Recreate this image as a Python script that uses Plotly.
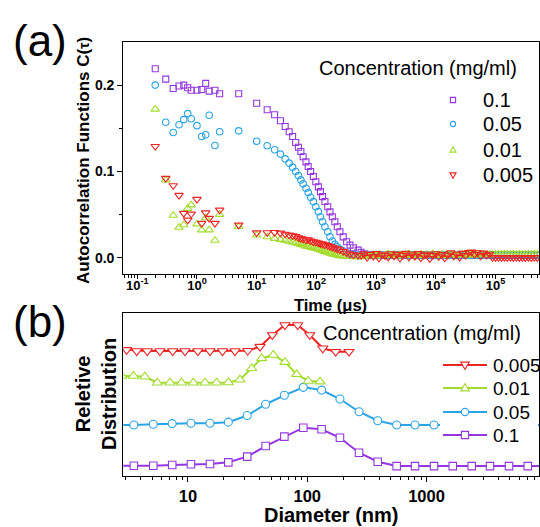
import plotly.graph_objects as go

# ---------------- Panel (a): autocorrelation functions ----------------
time_us = [0.2, 0.3, 0.4, 0.5, 0.6, 0.7, 0.8, 1.0, 1.2, 1.4, 1.6, 2.0, 2.4, 5, 10,
           15, 20, 25, 30, 35, 40, 45, 50, 55, 60, 67, 73, 80, 89, 98,
           108, 117, 127, 139, 155, 169, 185, 204, 224, 248, 282, 321, 366, 417, 500,
           560, 630, 710, 800, 900, 1000, 1120, 1260, 1410, 1590, 1780, 2000, 2240, 2510, 2820,
           3160, 3550, 3980, 4470, 5010, 5620, 6310, 7080, 7940, 8910, 10000, 11200, 12600, 14100, 15800,
           17800, 20000, 22400, 25100, 28200, 31600, 35500, 39800, 44700, 50100, 56200, 63100, 70800, 79400, 89100,
           100000, 112000, 126000, 141000, 158000, 178000, 200000, 224000, 251000, 282000, 316000, 355000, 398000, 447000, 501000]

acf_01 = [0.219, 0.207, 0.196, 0.199, 0.200, 0.197, 0.194, 0.194, 0.195, 0.202, 0.193, 0.194, 0.190, 0.190, 0.179,
          0.1715, 0.1657, 0.1587, 0.152, 0.146, 0.1405, 0.1335, 0.128, 0.123, 0.117, 0.111, 0.1056, 0.0998, 0.094, 0.088,
          0.082, 0.0765, 0.0707, 0.065, 0.059, 0.053, 0.0474, 0.0416, 0.0358, 0.030, 0.024, 0.0184, 0.0145, 0.0114, 0.0087,
          0.0062, 0.0045, 0.0035, 0.0030, 0.0028, 0.0032, 0.0025, 0.0030, 0.0027, 0.0033, 0.0026, 0.0031, 0.0024, 0.0029, 0.0034,
          0.0027, 0.0030, 0.0025, 0.0032, 0.0028, 0.0026, 0.0031, 0.0029, 0.0024, 0.0033, 0.0028, 0.0030, 0.0025, 0.0031, 0.0027,
          0.0034, 0.0029, 0.0026, 0.0032, 0.0028, 0.0030, 0.0035, 0.0027, 0.0031, 0.0029, 0.0026, 0.0032, 0.0030, 0.0028, 0.0031,
          0.0029, 0.0030, 0.0028, 0.0031, 0.0029, 0.0030, 0.0028, 0.0031, 0.0029, 0.0030, 0.0028, 0.0031, 0.0029, 0.0030, 0.0029]

acf_005 = [0.200, 0.157, 0.145, 0.154, 0.160, 0.167, 0.161, 0.153, 0.1405, 0.1424, 0.165, 0.130, 0.146, 0.147, 0.135,
           0.1297, 0.125, 0.120, 0.1145, 0.1095, 0.1049, 0.0998, 0.0951, 0.0901, 0.0855, 0.0805, 0.0754, 0.070, 0.0649, 0.059,
           0.0533, 0.0474, 0.0416, 0.0358, 0.030, 0.0242, 0.0192, 0.0153, 0.0126, 0.0099, 0.0076, 0.0056, 0.0040, 0.0035, 0.0030,
           0.0030, 0.0028, 0.0033, 0.0026, 0.0031, 0.0035, 0.0027, 0.0030, 0.0024, 0.0032, 0.0029, 0.0036, 0.0026, 0.0031, 0.0028,
           0.0033, 0.0025, 0.0030, 0.0034, 0.0027, 0.0031, 0.0026, 0.0035, 0.0029, 0.0032, 0.0025, 0.0030, 0.0036, 0.0028, 0.0031,
           0.0027, 0.0033, 0.0030, 0.0038, 0.0029, 0.0032, 0.0026, 0.0034, 0.0030, 0.0028, 0.0033, 0.0029, 0.0031, 0.0027, 0.0030,
           0.0032, 0.0029, 0.0031, 0.0030, 0.0028, 0.0031, 0.0030, 0.0029, 0.0031, 0.0030, 0.0028, 0.0030, 0.0031, 0.0029, 0.0030]

acf_001 = [0.172, 0.090, 0.049, 0.035, 0.038, 0.057, 0.061, 0.039, 0.032, 0.046, 0.032, 0.020, 0.050, 0.036, 0.026,
           0.0240, 0.0222, 0.0210, 0.0200, 0.0190, 0.0180, 0.0172, 0.0162, 0.0152, 0.0146, 0.0132, 0.0128, 0.0120, 0.0110, 0.0106,
           0.0098, 0.0090, 0.0080, 0.0070, 0.0060, 0.0050, 0.0042, 0.0034, 0.0028, 0.0022, 0.0016, 0.0013, 0.0011, 0.0010, 0.0010,
           0.0010, 0.0015, 0.0025, 0.0018, 0.0032, 0.0022, 0.0036, 0.0020, 0.0030, 0.0041, 0.0024, 0.0033, 0.0019, 0.0038, 0.0027,
           0.0031, 0.0042, 0.0023, 0.0035, 0.0028, 0.0040, 0.0021, 0.0034, 0.0029, 0.0043, 0.0025, 0.0032, 0.0038, 0.0022, 0.0036,
           0.0030, 0.0041, 0.0026, 0.0034, 0.0039, 0.0028, 0.0033, 0.0044, 0.0027, 0.0036, 0.0031, 0.0040, 0.0029, 0.0035, 0.0038,
           0.0036, 0.0039, 0.0037, 0.0040, 0.0036, 0.0038, 0.0039, 0.0037, 0.0040, 0.0038, 0.0036, 0.0039, 0.0038, 0.0040, 0.0037]

acf_0005 = [0.129, 0.092, 0.0835, 0.0723, 0.0514, 0.0436, 0.0506, 0.0677, 0.0398, 0.052, 0.0456, 0.0398, 0.0552, 0.0378, 0.0288,
            0.0290, 0.0292, 0.0285, 0.0272, 0.0262, 0.0255, 0.0246, 0.0232, 0.0222, 0.0214, 0.0205, 0.0208, 0.0193, 0.0184, 0.0180,
            0.0170, 0.0162, 0.0158, 0.0149, 0.0140, 0.0130, 0.0121, 0.0110, 0.0100, 0.0090, 0.0072, 0.0055, 0.0042, 0.0033, 0.0025,
            0.0027, 0.0045, 0.0003, 0.0037, 0.0015, 0.0049, -0.0005, 0.0033, 0.0023, 0.0005, 0.0046, 0.0017, 0.0039, -0.0007, 0.0027,
            0.0050, 0.0007, 0.0035, 0.0016, 0.0048, -0.0003, 0.0026, 0.0041, -0.0010, 0.0024, 0.0047, 0.0011, 0.0036, -0.0004, 0.0028,
            0.0057, 0.0018, 0.0040, 0.0003, 0.0051, 0.0025, 0.0060, 0.0065, 0.0037, 0.0058, 0.0017, 0.0053, 0.0027, 0.0041, 0.0002,
            0.0001, 0.0002, 0.0001, 0.0002, 0.0001, 0.0002, 0.0001, 0.0002, 0.0001, 0.0002, 0.0001, 0.0002, 0.0001, 0.0002, 0.0001]

for s in (acf_01, acf_005, acf_001, acf_0005):
    assert len(s) == len(time_us), (len(s), len(time_us))

time_ticks = [0.1, 1, 10, 100, 1000, 10000, 100000]
time_ticktext = ["10<sup>-1</sup>", "10<sup>0</sup>", "10<sup>1</sup>", "10<sup>2</sup>",
                 "10<sup>3</sup>", "10<sup>4</sup>", "10<sup>5</sup>"]
acf_ticks = [0.0, 0.1, 0.2]
acf_ticktext = ["0.0", "0.1", "0.2"]

# ---------------- Panel (b): size distributions (offset curves) ----------------
diam_01_005 = [2.45, 3.52, 5.12, 7.38, 10.6, 15.3, 21.8, 31.4, 44.8, 64.3, 92.7, 132,
               188, 272, 390, 562, 801, 1156, 1660, 2393, 3405, 4917, 7063, 10150]
dist_01 = [0.063, 0.063, 0.063, 0.068, 0.072, 0.074, 0.084, 0.119, 0.184, 0.242, 0.297, 0.287,
           0.235, 0.143, 0.088, 0.061, 0.061, 0.061, 0.061, 0.061, 0.061, 0.061, 0.061, 0.061]
dist_005 = [0.313, 0.313, 0.318, 0.322, 0.324, 0.324, 0.331, 0.372, 0.441, 0.496, 0.545, 0.528,
            0.473, 0.395, 0.340, 0.313, 0.313, 0.313, 0.313, 0.313, 0.313, 0.313, 0.313, 0.313]
diam_001 = [2.79, 3.49, 4.36, 5.53, 7.06, 8.85, 11.1, 13.9, 17.4, 21.8, 27.3, 34.2, 41.5, 51.9, 65.0, 81.6, 102, 128]
dist_001 = [0.615, 0.615, 0.610, 0.573, 0.573, 0.573, 0.573, 0.573, 0.573, 0.575, 0.592, 0.662,
            0.723, 0.744, 0.700, 0.625, 0.584, 0.580]
diam_0005 = [2.4, 3.06, 3.72, 4.56, 5.82, 7.45, 9.44, 12.1, 15.3, 19.5, 24.8, 31.7, 40.2, 51.0,
             65.0, 83.2, 105, 135, 173, 224]
dist_0005 = [0.780, 0.775, 0.768, 0.768, 0.768, 0.768, 0.768, 0.768, 0.768, 0.768, 0.768, 0.770,
             0.795, 0.867, 0.928, 0.928, 0.867, 0.785, 0.764, 0.764]

diam_ticks = [10, 100, 1000]
diam_ticktext = ["10", "100", "1000"]

concentrations = ["0.1", "0.05", "0.01", "0.005"]
legend_title = "Concentration (mg/ml)"

# ---------------- styling ----------------
W, H = 540, 527
FONT = "Liberation Sans, Arial, Helvetica, sans-serif"
C_PURPLE = "#9437e0"
C_BLUE = "#2ba4e4"
C_GREEN = "#a2dc2c"
C_RED = "#ee2424"


def X(px):
    return px / W


def Y(py):
    return 1 - py / H


fig = go.Figure()

top_specs = [
    (acf_01, "0.1", C_PURPLE, "square-open", 6),
    (acf_005, "0.05", C_BLUE, "circle-open", 6.5),
    (acf_001, "0.01", C_GREEN, "triangle-up-open", 7.5),
    (acf_0005, "0.005", C_RED, "triangle-down-open", 7.5),
]
for yv, name, col, sym, sz in top_specs:
    fig.add_trace(go.Scatter(
        x=time_us, y=yv, mode="markers", name=name, showlegend=False,
        marker=dict(symbol=sym, size=sz, color=col, line=dict(width=1.1, color=col)),
        xaxis="x", yaxis="y"))

bot_specs = [
    (diam_01_005, dist_01, "0.1", C_PURPLE, "square", 7.5),
    (diam_01_005, dist_005, "0.05", C_BLUE, "circle", 8),
    (diam_001, dist_001, "0.01", C_GREEN, "triangle-up", 9),
    (diam_0005, dist_0005, "0.005", C_RED, "triangle-down", 9),
]
for xv, yv, name, col, sym, sz in bot_specs:
    fig.add_trace(go.Scatter(
        x=xv, y=yv, mode="lines+markers", name=name, showlegend=False,
        line=dict(color=col, width=2),
        marker=dict(symbol=sym, size=sz, color="white", line=dict(width=1.1, color=col)),
        xaxis="x2", yaxis="y2"))

axis_common = dict(showline=True, linecolor="black", linewidth=1.3, mirror=True,
                   showgrid=False, zeroline=False, ticks="outside", tickcolor="black",
                   tickwidth=1.2, ticklen=5)

time_minor = [m * 10.0 ** e for e in range(-2, 6) for m in range(2, 10)]
diam_minor = [m * 10.0 ** e for e in range(0, 4) for m in range(2, 10)]

x_dom = [X(123.3), X(539)]

fig.update_layout(
    width=W, height=H,
    template="none",
    margin=dict(l=0, r=0, t=0, b=0),
    paper_bgcolor="white", plot_bgcolor="white",
    font=dict(family=FONT, color="black"),
    showlegend=False,
    xaxis=dict(axis_common, domain=x_dom, anchor="y", type="log", range=[-1.234, 5.729],
               tickmode="array", tickvals=time_ticks, ticktext=time_ticktext,
               tickfont=dict(size=13, weight="bold", family=FONT),
               ticklen=4, ticklabelstandoff=-5,
               minor=dict(tickmode="array", tickvals=time_minor, ticks="outside",
                          ticklen=2.5, tickcolor="black", showgrid=False)),
    yaxis=dict(axis_common, domain=[Y(274), Y(42)], anchor="x", range=[-0.019, 0.25],
               tickmode="array", tickvals=acf_ticks, ticktext=acf_ticktext,
               tickfont=dict(size=14, weight="bold", family=FONT),
               minor=dict(tickmode="array", tickvals=[0.05, 0.15], ticks="outside",
                          ticklen=3, tickcolor="black", showgrid=False)),
    xaxis2=dict(axis_common, domain=x_dom, anchor="y2", type="log", range=[0.458, 3.943],
                tickmode="array", tickvals=diam_ticks, ticktext=diam_ticktext,
                tickfont=dict(size=16.5, weight="bold", family=FONT),
                ticklabelstandoff=0,
                minor=dict(tickmode="array", tickvals=diam_minor, ticks="outside",
                           ticklen=3, tickcolor="black", showgrid=False)),
    yaxis2=dict(axis_common, domain=[Y(476), Y(313.3)], anchor="x2", range=[0, 1],
                ticks="", showticklabels=False),
)

# ---------------- text: panel labels and axis titles ----------------
annots = [
    dict(text="(a)", x=X(40), y=Y(40), font=dict(size=44)),
    dict(text="(b)", x=X(40), y=Y(321), font=dict(size=44)),
    dict(text="<b>Autocorrelation Functions C(<span style='font-size:14px'>τ</span>)</b>",
         x=X(84), y=Y(161), textangle=-90, font=dict(size=17)),
    dict(text="<b>Time (μs)</b>", x=X(330), y=Y(305), font=dict(size=16.5)),
    dict(text="<b>Reletive<br>Distribution</b>", x=X(96), y=Y(394), textangle=-90,
         font=dict(size=20)),
    dict(text="<b>Diameter (nm)</b>", x=X(331), y=Y(515), font=dict(size=20)),
    dict(text=legend_title, x=X(317), y=Y(68), xanchor="left", font=dict(size=20)),
    dict(text=legend_title, x=X(321), y=Y(333), xanchor="left", font=dict(size=20)),
]
for a in annots:
    a.setdefault("xanchor", "center")
    fig.add_annotation(xref="paper", yref="paper", yanchor="middle", showarrow=False, **a)


def tri_path(cx, cy, r, up=True):
    if up:
        pts = [(cx, cy - r), (cx + r * 0.95, cy + r * 0.65), (cx - r * 0.95, cy + r * 0.65)]
    else:
        pts = [(cx, cy + r), (cx + r * 0.95, cy - r * 0.65), (cx - r * 0.95, cy - r * 0.65)]
    return "M " + " L ".join(f"{X(x):.5f},{Y(y):.5f}" for x, y in pts) + " Z"


def marker_shape(kind, cx, cy, r, col, fill):
    base = dict(xref="paper", yref="paper", layer="above",
                line=dict(color=col, width=1.1), fillcolor=fill)
    if kind == "square":
        return dict(base, type="rect", x0=X(cx - r), x1=X(cx + r), y0=Y(cy + r), y1=Y(cy - r))
    if kind == "circle":
        return dict(base, type="circle", x0=X(cx - r), x1=X(cx + r), y0=Y(cy + r), y1=Y(cy - r))
    return dict(base, type="path", path=tri_path(cx, cy, r * 1.25, up=(kind == "up")))


shapes = []
# legend (a): markers only
top_rows = [("0.1", C_PURPLE, "square", 100), ("0.05", C_BLUE, "circle", 124),
            ("0.01", C_GREEN, "up", 150), ("0.005", C_RED, "down", 175)]
for label, col, kind, yy in top_rows:
    shapes.append(marker_shape(kind, 453, yy, 2.6, col, "rgba(0,0,0,0)"))
    fig.add_annotation(xref="paper", yref="paper", x=X(481), y=Y(yy), xanchor="left",
                       yanchor="middle", showarrow=False, text=label, font=dict(size=20))

# legend (b): white box hiding curves, then line + marker samples
shapes.append(dict(type="rect", xref="paper", yref="paper", layer="above",
                   x0=X(440), x1=X(538), y0=Y(449), y1=Y(353),
                   line=dict(width=0), fillcolor="white"))
bot_rows = [("0.005", C_RED, "down", 365), ("0.01", C_GREEN, "up", 388),
            ("0.05", C_BLUE, "circle", 412), ("0.1", C_PURPLE, "square", 435)]
for label, col, kind, yy in bot_rows:
    shapes.append(dict(type="line", xref="paper", yref="paper", layer="above",
                       x0=X(443), x1=X(487), y0=Y(yy), y1=Y(yy), line=dict(color=col, width=2)))
    shapes.append(marker_shape(kind, 465, yy, 3.6, col, "white"))
    fig.add_annotation(xref="paper", yref="paper", x=X(491), y=Y(yy), xanchor="left",
                       yanchor="middle", showarrow=False, text=label, font=dict(size=19))

fig.update_layout(shapes=shapes)

fig.write_html("out.html",
               config={"displayModeBar": False},
               post_script="document.body.style.margin='0';document.body.style.overflow='hidden';")
